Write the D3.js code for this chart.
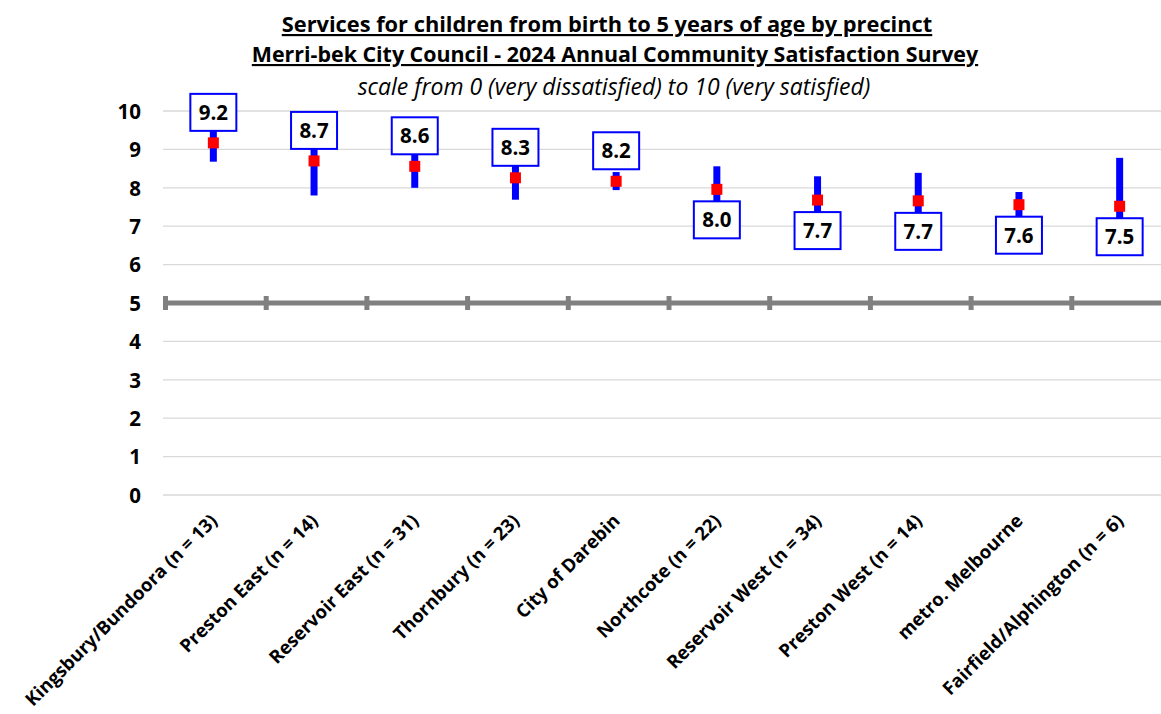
<!DOCTYPE html>
<html>
<head>
<meta charset="utf-8">
<script src="https://cdn.jsdelivr.net/npm/d3@7"></script>
<style>
  html, body { margin: 0; padding: 0; background: #fff; }
  svg { display: block; font-family: "Open Sans", Lato, sans-serif; }
</style>
</head>
<body>
<svg id="chart" width="1161" height="714"></svg>
<script>
// ---- data ----
const categories = [
  "Kingsbury/Bundoora (n = 13)",
  "Preston East (n = 14)",
  "Reservoir East (n = 31)",
  "Thornbury (n = 23)",
  "City of Darebin",
  "Northcote (n = 22)",
  "Reservoir West (n = 34)",
  "Preston West (n = 14)",
  "metro. Melbourne",
  "Fairfield/Alphington (n = 6)"
];
const means  = [9.17, 8.70, 8.56, 8.26, 8.17, 7.96, 7.68, 7.66, 7.56, 7.52];
const lower  = [8.68, 7.80, 8.00, 7.69, 7.94, 7.36, 7.06, 6.93, 7.23, 6.26];
const upper  = [9.66, 9.60, 9.12, 8.83, 8.41, 8.56, 8.30, 8.39, 7.89, 8.78];
const labels = ["9.2", "8.7", "8.6", "8.3", "8.2", "8.0", "7.7", "7.7", "7.6", "7.5"];
const labelAbove = [true, true, true, true, true, false, false, false, false, false];
const yTicks = [0, 1, 2, 3, 4, 5, 6, 7, 8, 9, 10];
const titleLines = [
  "Services for children from birth to 5 years of age by precinct",
  "Merri-bek City Council - 2024 Annual Community Satisfaction Survey"
];
const subtitle = "scale from 0 (very dissatisfied) to 10 (very satisfied)";
const referenceValue = 5;

(function () {
const FONT = "'Open Sans', Lato, sans-serif";
const svg = d3.select("#chart");
const pLeft = 163, pRight = 1170, pTop = 111, pBottom = 495;

const x = d3.scaleBand().domain(categories).range([pLeft, pRight]).padding(0);
const y = d3.scaleLinear().domain([0, 10]).range([pBottom, pTop]);

// gridlines
svg.append("g").selectAll("line")
  .data(yTicks.filter(t => t !== referenceValue))
  .join("line")
  .attr("x1", pLeft).attr("x2", pRight)
  .attr("y1", d => y(d)).attr("y2", d => y(d))
  .attr("stroke", "#d9d9d9").attr("stroke-width", 1.3);

// y axis labels
const yAxis = d3.axisLeft(y).tickValues(yTicks).tickSize(0).tickPadding(0).tickFormat(d3.format("d"));
const gy = svg.append("g").attr("transform", `translate(${141},0)`).call(yAxis);
gy.select(".domain").remove();
gy.selectAll("text")
  .attr("font-family", FONT)
  .attr("font-size", 20.5).attr("font-weight", "bold").attr("fill", "#000")
  .attr("dy", "0.36em");

// reference line at 5 with ticks at category boundaries
const refY = y(referenceValue);
svg.append("line")
  .attr("x1", pLeft).attr("x2", pRight)
  .attr("y1", refY).attr("y2", refY)
  .attr("stroke", "#808080").attr("stroke-width", 5);
const boundaries = categories.map(c => x(c)).concat([pRight]);
svg.append("g").selectAll("line")
  .data(boundaries)
  .join("line")
  .attr("x1", d => d + 2.5).attr("x2", d => d + 2.5)
  .attr("y1", refY - 7).attr("y2", refY + 7)
  .attr("stroke", "#808080").attr("stroke-width", 5);

// x axis labels
const xAxis = d3.axisBottom(x).tickSize(0).tickPadding(0);
const gx = svg.append("g").attr("transform", `translate(0,${pBottom})`).call(xAxis);
gx.select(".domain").remove();
gx.selectAll("text")
  .attr("font-family", FONT)
  .attr("font-size", 18.5).attr("font-weight", "bold").attr("fill", "#000")
  .attr("text-anchor", "end")
  .attr("dy", null).attr("y", null)
  .attr("transform", "translate(5,27) rotate(-45)");

// error bars
const cx = c => x(c) + x.bandwidth() / 2;
svg.append("g").selectAll("line")
  .data(categories)
  .join("line")
  .attr("x1", cx).attr("x2", cx)
  .attr("y1", (c, i) => y(lower[i])).attr("y2", (c, i) => y(upper[i]))
  .attr("stroke", "#0000ff").attr("stroke-width", 7);

// mean markers
const sq = 11;
svg.append("g").selectAll("rect")
  .data(categories)
  .join("rect")
  .attr("x", c => cx(c) - sq / 2)
  .attr("y", (c, i) => y(means[i]) - sq / 2)
  .attr("width", sq).attr("height", sq)
  .attr("fill", "#ff0000");

// value label boxes
const bw = 46, bh = 37, gap = 12;
const lg = svg.append("g").selectAll("g")
  .data(categories)
  .join("g")
  .attr("transform", (c, i) => {
    const my = y(means[i]);
    const by = labelAbove[i] ? my - gap - bh : my + gap;
    return `translate(${cx(c) - bw / 2},${by})`;
  });
lg.append("rect")
  .attr("width", bw).attr("height", bh)
  .attr("fill", "#fff").attr("stroke", "#0000ff").attr("stroke-width", 2);
lg.append("text")
  .attr("x", bw / 2).attr("y", bh / 2).attr("dy", "0.36em")
  .attr("text-anchor", "middle")
  .attr("font-family", FONT)
  .attr("font-size", 20.5).attr("font-weight", "bold").attr("fill", "#000")
  .text((c, i) => labels[i]);

// titles
svg.append("g").selectAll("text")
  .data(titleLines)
  .join("text")
  .attr("x", (d, i) => i === 0 ? 607 : 615)
  .attr("y", (d, i) => 32 + i * 30)
  .attr("text-anchor", "middle")
  .attr("font-family", FONT)
  .attr("font-size", (d, i) => i === 0 ? 21.8 : 21.4).attr("font-weight", "bold")
  .attr("text-decoration", "underline")
  .text(d => d);
svg.append("text")
  .attr("x", 614).attr("y", 95)
  .attr("text-anchor", "middle")
  .attr("font-family", FONT)
  .attr("font-size", 23).attr("font-style", "italic")
  .text(subtitle);
})();
</script>
</body>
</html>
